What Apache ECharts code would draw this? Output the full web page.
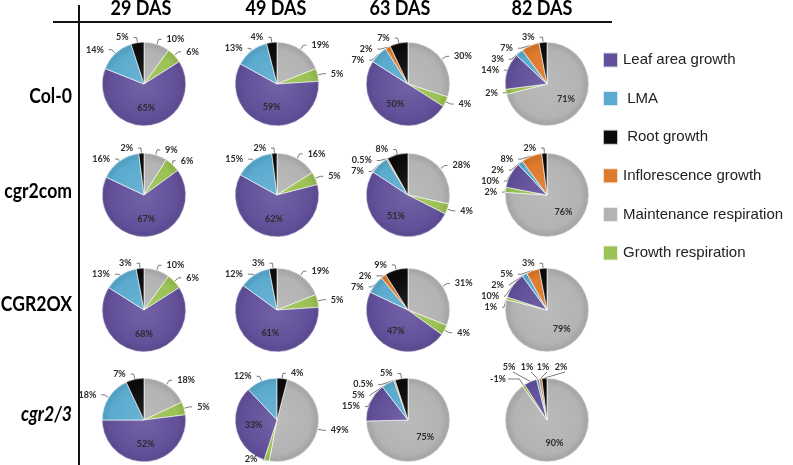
<!DOCTYPE html>
<html>
<head>
<meta charset="utf-8">
<script src="https://cdn.jsdelivr.net/npm/echarts@6/dist/echarts.min.js"></script>
<style>
html,body{margin:0;padding:0;background:#fff;}
#chart{width:793px;height:465px;}
</style>
</head>
<body>
<div id="chart"></div>
<script>
// Slice categories, in the clockwise order they are drawn from 12 o'clock
const categories = ['Maintenance respiration','Growth respiration','Leaf area growth','LMA','Inflorescence growth','Root growth'];
// Legend order
const legendOrder = ['Leaf area growth','LMA','Root growth','Inflorescence growth','Maintenance respiration','Growth respiration'];
const days = ['29 DAS','49 DAS','63 DAS','82 DAS'];
const genotypes = ['Col-0','cgr2com','CGR2OX','cgr2/3'];

// Percentages per day (29, 49, 63, 82 DAS), each in categories order
const col0    = [[10,6,65,14,0,5],[19,5,59,13,0,4],[30,4,50,7,2,7],[71,2,14,3,7,3]];
const cgr2com = [[9,6,67,16,0,2],[16,5,62,15,0,2],[28,4,51,7,0.5,8],[76,2,10,2,8,2]];
const cgr2ox  = [[10,6,68,13,0,3],[19,5,61,12,0,3],[31,4,47,7,2,9],[79,1,10,2,5,3]];
const cgr23   = [[18,5,52,18,0,7],[49,2,33,12,0,4],[75,0,15,5,0.5,5],[90,-1,5,1,1,2]];
const allValues = [col0, cgr2com, cgr2ox, cgr23];

// ---- styling / layout ----
const colors = {
  'Maintenance respiration':'#b3b3b3',
  'Growth respiration':'#9bc254',
  'Leaf area growth':'#62509a',
  'LMA':'#5aabcf',
  'Inflorescence growth':'#dd7a2c',
  'Root growth':'#0b0b0b'
};
const colX = [144, 277, 408, 547];
const rowY = [84, 195, 310, 420];
const R = 42;
const labelFont = 'Lato, "Open Sans", sans-serif';

function shade(hex, f) {
  const n = parseInt(hex.slice(1), 16);
  let r = (n >> 16) & 255, g = (n >> 8) & 255, b = n & 255;
  const adj = v => Math.max(0, Math.min(255, Math.round(f >= 0 ? v + (255 - v) * f : v * (1 + f))));
  return 'rgb(' + adj(r) + ',' + adj(g) + ',' + adj(b) + ')';
}
function sliceFill(base, cx, cy) {
  return {
    type: 'radial', x: cx, y: cy, r: R, global: true,
    colorStops: [
      { offset: 0, color: shade(base, 0.1) },
      { offset: 0.8, color: base },
      { offset: 0.95, color: shade(base, -0.08) },
      { offset: 1, color: shade(base, 0.12) }
    ]
  };
}

// label placement for the crowded 82 DAS cgr2/3 pie (offsets from its centre)
const crowdedOffsets = { 1: [-41, -41, 'right'], 2: [-38, -53, 'center'], 3: [-20, -53, 'center'], 4: [-4, -53, 'center'], 5: [14, -53, 'center'] };

const series = [];
allValues.forEach((rowVals, r) => {
  rowVals.forEach((vals, c) => {
    const cx = colX[c], cy = rowY[r];
    const insideName = (c === 3 || (r === 3 && c === 2)) ? 'Maintenance respiration' : 'Leaf area growth';
    const startAngle = (r === 3 && c === 1) ? 90 - 14.4 : 90;
    const data = [];
    vals.forEach((v, i) => {
      if (v === 0) return;
      const name = categories[i];
      const inside = name === insideName;
      data.push({
        name: name,
        value: Math.abs(v),
        raw: v,
        itemStyle: { color: sliceFill(colors[name], cx, cy) },
        label: inside ? { position: 'inside' } : { position: 'outside' },
        labelLine: { show: !inside }
      });
    });
    const s = {
      type: 'pie',
      center: [cx, cy],
      radius: R,
      startAngle: startAngle,
      clockwise: true,
      animation: false,
      avoidLabelOverlap: true,
      itemStyle: { borderColor: 'rgba(255,255,255,0.75)', borderWidth: 0.8 },
      emphasis: { disabled: true },
      label: {
        show: true,
        formatter: p => p.data.raw + '%',
        fontFamily: labelFont,
        fontWeight: 'bold',
        fontSize: 9,
        color: '#2b2b2b'
      },
      labelLine: {
        show: true,
        length: 5,
        length2: 3,
        lineStyle: { color: '#555', width: 0.8 }
      },
      data: data
    };
    if (r === 3 && c === 3) {
      s.labelLayout = function (p) {
        const o = crowdedOffsets[p.dataIndex];
        if (!o || !p.labelLinePoints) return {};
        const lx = cx + o[0], ly = cy + o[1];
        const p0 = p.labelLinePoints[0];
        let end;
        if (o[2] === 'right') end = [lx + 2, ly];
        else end = [lx + 4, ly + 5];
        return {
          x: lx, y: ly, align: o[2], verticalAlign: 'middle',
          labelLinePoints: [p0, o[2] === 'right' ? [p0[0] - 4, ly] : end, end]
        };
      };
    }
    series.push(s);
  });
});

const graphics = [];
graphics.push({ type: 'line', shape: { x1: 53, y1: 22, x2: 612, y2: 22 }, style: { stroke: '#111', lineWidth: 2 } });
graphics.push({ type: 'line', shape: { x1: 79, y1: 5, x2: 79, y2: 465 }, style: { stroke: '#111', lineWidth: 2 } });
const headerX = [141, 276, 400, 542];
days.forEach((d, i) => {
  graphics.push({
    type: 'text', x: headerX[i], y: 9, scaleX: 0.9,
    style: { text: d, font: 'bold 20px Lato, "Open Sans", sans-serif', fill: '#000', textAlign: 'center', textVerticalAlign: 'middle' }
  });
});
const rowLabelY = [97, 192, 305, 415];
genotypes.forEach((g, i) => {
  graphics.push({
    type: 'text', x: 72, y: rowLabelY[i], scaleX: 0.88,
    style: { text: g, font: (i === 3 ? 'italic ' : '') + 'bold 20px Lato, "Open Sans", sans-serif', fill: '#000', textAlign: 'right', textVerticalAlign: 'middle' }
  });
});

const chart = echarts.init(document.getElementById('chart'), null, { renderer: 'canvas' });
chart.setOption({
  backgroundColor: '#fff',
  animation: false,
  legend: {
    orient: 'vertical',
    left: 602,
    top: 51.5,
    padding: 0,
    itemWidth: 15,
    itemHeight: 15,
    itemGap: 21.6,
    icon: 'rect',
    selectedMode: false,
    data: legendOrder.map(n => ({ name: n, itemStyle: { color: colors[n] } })),
    formatter: n => (n === 'LMA' || n === 'Root growth') ? ' ' + n : n,
    textStyle: { fontFamily: '"Liberation Sans", Arial, sans-serif', fontSize: 15, color: '#222' }
  },
  graphic: graphics,
  series: series
});
</script>
</body>
</html>
